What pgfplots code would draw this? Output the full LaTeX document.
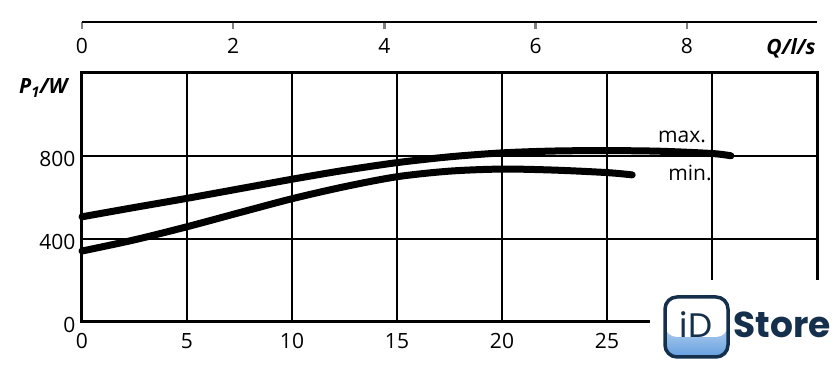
\documentclass[border=0pt]{standalone}
\usepackage{fontspec}
\setmainfont{Open Sans}
\newfontfamily\logofont{Poppins}
\usepackage{pgfplots}
\pgfplotsset{compat=1.18}
\definecolor{navy}{HTML}{14304C}
\definecolor{logoblue}{HTML}{3C86D6}
\begin{document}
\begin{tikzpicture}
\useasboundingbox (-82pt,-52pt) rectangle (758pt,322pt);
\begin{axis}[
  at={(0pt,0pt)}, anchor=south west,
  width=735pt, height=249pt, scale only axis,
  xmin=0, xmax=35, ymin=0, ymax=1200,
  xtick={0,5,...,35}, xticklabels={0,5,10,15,20,25,,},
  ytick={0,400,800}, yticklabels={0,400,800},
  grid=major, major grid style={line width=1.3pt, black},
  major tick length=0pt,
  axis line style={line width=3pt},
  tick label style={font=\fontsize{21}{24}\selectfont},
  /pgf/number format/assume math mode=true,
  xticklabel style={yshift=-8pt},
  yticklabel style={xshift=-3pt, yshift=-3pt},
  clip=false,
]
\addplot[line width=7pt, smooth, line cap=round] coordinates {
 (0,507) (2.5,552) (5,596) (7.5,642) (10,688) (12.5,731) (15,768) (17.5,796)
 (20,815) (22.5,824) (25,826) (27.5,823) (30,812) (30.9,801)};
\addplot[line width=7pt, smooth, line cap=round] coordinates {
 (0,342) (2.5,396) (5,459) (7.5,527) (10,594) (12.5,652) (15,700) (17.5,727)
 (20,737) (22.5,732) (25,720) (26.2,709)};
\end{axis}
\begin{axis}[
  at={(0pt,300pt)}, anchor=south west,
  width=735pt, height=10pt, scale only axis,
  xmin=0, xmax=9.7222, ymin=0, ymax=1,
  axis x line*=bottom, hide y axis,
  xtick={0,2,4,6,8},
  tick align=outside, major tick length=7pt,
  x axis line style={line width=2.5pt},
  xtick style={line width=2.5pt},
  tick label style={font=\fontsize{21}{24}\selectfont},
  /pgf/number format/assume math mode=true,
  xticklabel shift=6pt,
]
\end{axis}
\node[anchor=east, font=\fontsize{21}{24}\selectfont\bfseries\itshape] at (-11pt,234pt) {P\textsubscript{1}/W};
\node[font=\fontsize{21}{24}\selectfont\bfseries\itshape] at (709pt,274pt) {Q/l/s};
\node[font=\fontsize{21}{24}\selectfont] at (600pt,185pt) {max.};
\node[font=\fontsize{21}{24}\selectfont] at (608pt,149pt) {min.};
% watermark
\fill[white] (568pt,-52pt) rectangle (758pt,42pt);
\shade[rounded corners=12pt, top color=white, middle color=white, bottom color=logoblue!80] (583pt,-35pt) rectangle (646pt,25pt);
\fill[white, rounded corners=12pt] (583pt,25pt) rectangle (646pt,-15pt);
\draw[navy, line width=3.5pt, rounded corners=12pt] (583pt,-35pt) rectangle (646pt,25pt);
\node[navy, font=\fontsize{34}{36}\selectfont\logofont] at (614pt,-3pt) {iD};
\node[navy, font=\fontsize{36}{40}\selectfont\logofont\bfseries] at (700pt,-3pt) {Store};
\end{tikzpicture}
\end{document}
